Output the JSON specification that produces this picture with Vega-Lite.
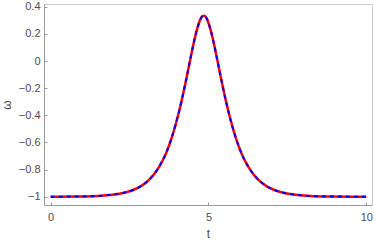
{
  "$schema": "https://vega.github.io/schema/vega-lite/v6.json",
  "width": 328,
  "height": 201,
  "autosize": {"type": "none"},
  "padding": {"left": 44, "top": 4, "right": 2, "bottom": 37},
  "background": "white",
  "config": {
    "view": {"stroke": "#cccccc", "strokeWidth": 1},
    "axis": {
      "labelFont": "Liberation Sans",
      "labelFontSize": 11,
      "labelColor": "#4d4d4d",
      "titleFont": "Liberation Sans",
      "titleFontSize": 12,
      "titleColor": "#4d4d4d",
      "titleFontWeight": "normal",
      "domainColor": "#999999",
      "tickColor": "#999999",
      "grid": false
    }
  },
  "data": {
    "values": [
      {"t": 0, "w": -1.0},
      {"t": 0.85, "w": -0.998},
      {"t": 1.35, "w": -0.996},
      {"t": 1.85, "w": -0.988},
      {"t": 2.25, "w": -0.975},
      {"t": 2.55, "w": -0.956},
      {"t": 2.85, "w": -0.924},
      {"t": 3.05, "w": -0.890},
      {"t": 3.25, "w": -0.842},
      {"t": 3.45, "w": -0.774},
      {"t": 3.65, "w": -0.683},
      {"t": 3.85, "w": -0.555},
      {"t": 3.95, "w": -0.476},
      {"t": 4.05, "w": -0.389},
      {"t": 4.15, "w": -0.292},
      {"t": 4.25, "w": -0.186},
      {"t": 4.35, "w": -0.073},
      {"t": 4.45, "w": 0.042},
      {"t": 4.55, "w": 0.151},
      {"t": 4.65, "w": 0.244},
      {"t": 4.75, "w": 0.310},
      {"t": 4.8, "w": 0.328},
      {"t": 4.85, "w": 0.334},
      {"t": 4.9, "w": 0.328},
      {"t": 4.95, "w": 0.310},
      {"t": 5.05, "w": 0.244},
      {"t": 5.15, "w": 0.151},
      {"t": 5.25, "w": 0.042},
      {"t": 5.35, "w": -0.073},
      {"t": 5.45, "w": -0.186},
      {"t": 5.55, "w": -0.292},
      {"t": 5.65, "w": -0.389},
      {"t": 5.75, "w": -0.476},
      {"t": 5.85, "w": -0.555},
      {"t": 6.05, "w": -0.683},
      {"t": 6.25, "w": -0.774},
      {"t": 6.45, "w": -0.842},
      {"t": 6.65, "w": -0.890},
      {"t": 6.85, "w": -0.924},
      {"t": 7.15, "w": -0.956},
      {"t": 7.45, "w": -0.975},
      {"t": 7.85, "w": -0.988},
      {"t": 8.35, "w": -0.996},
      {"t": 8.85, "w": -0.998},
      {"t": 10, "w": -1.0}
    ]
  },
  "encoding": {
    "x": {
      "field": "t",
      "type": "quantitative",
      "scale": {"domain": [-0.21, 10.18], "nice": false, "zero": false},
      "axis": {"values": [0, 5, 10], "title": "t", "tickSize": -3, "labelPadding": 9, "titlePadding": 6, "labelFlush": false, "format": "d"}
    },
    "y": {
      "field": "w",
      "type": "quantitative",
      "scale": {"domain": [-1.061, 0.42], "nice": false, "zero": false},
      "axis": {"values": [-1, -0.8, -0.6, -0.4, -0.2, 0, 0.2, 0.4], "title": "ω", "tickSize": -3, "labelPadding": 7, "titlePadding": 5, "labelFlush": false, "labelExpr": "datum.value == 0 ? '0' : datum.value == -1 ? '−1' : format(datum.value, '.1f')"}
    }
  },
  "layer": [
    {"mark": {"type": "line", "color": "#ff0000", "strokeWidth": 2.5, "interpolate": "monotone"}},
    {"mark": {"type": "line", "color": "#0000ff", "strokeWidth": 2, "strokeDash": [4, 4], "interpolate": "monotone"}}
  ]
}
